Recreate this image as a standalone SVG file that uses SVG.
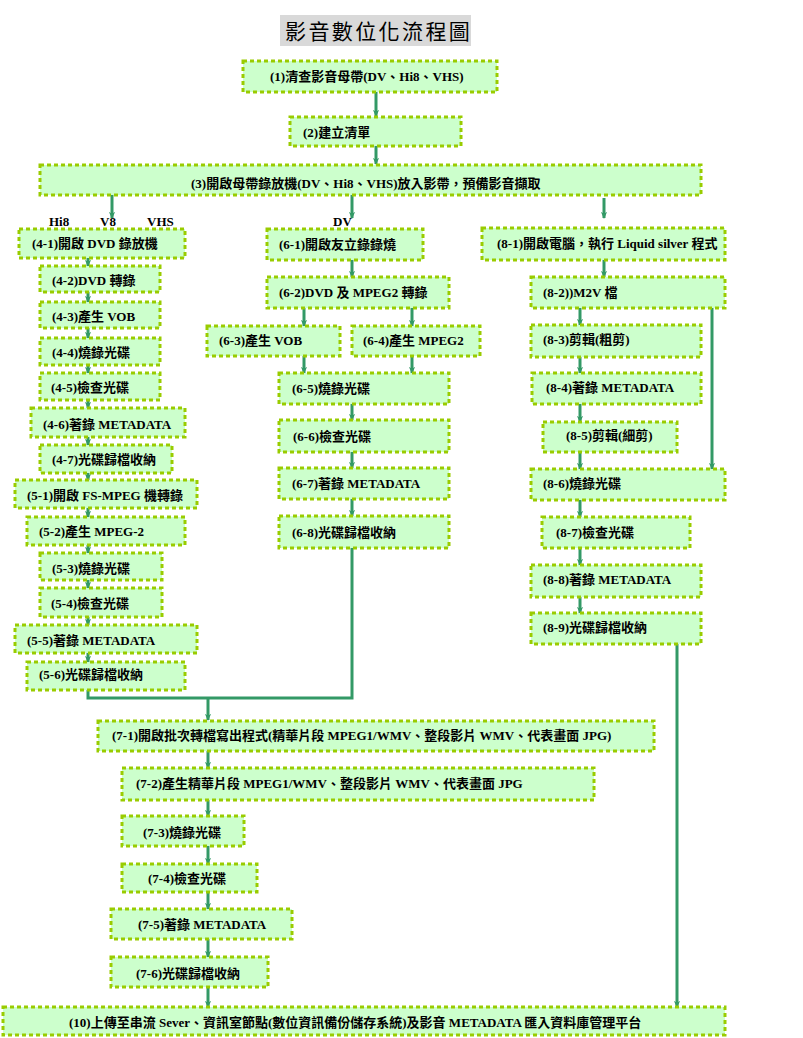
<svg xmlns="http://www.w3.org/2000/svg" width="803" height="1038" viewBox="0 0 803 1038">
<style>
.b{fill:#ccffcc;stroke:#99cc00;stroke-width:3;stroke-dasharray:4 3}
.t{font-family:"Liberation Serif","Noto Sans CJK TC",serif;font-weight:bold;font-size:13px;fill:#000}
.c{fill:none;stroke:#339966;stroke-width:3}
.a{marker-end:url(#ah)}
</style>
<defs>
<marker id="ah" viewBox="0 0 8 8" refX="7" refY="4" markerWidth="7" markerHeight="7" markerUnits="userSpaceOnUse" orient="auto">
<path d="M0,0.5 L8,4 L0,7.5 L2,4 z" fill="#339966"/>
</marker>
</defs>
<rect width="803" height="1038" fill="#fff"/>
<g id="title">
<rect x="280" y="15" width="191" height="31" fill="#d9d9d9"/>
<text x="285" y="39" style="font-family:'Liberation Serif','Noto Sans CJK TC',serif;font-size:21px;letter-spacing:2.4px;fill:#000">影音數位化流程圖</text>
</g>
<g id="connectors">
<path class="c a" d="M376,92 V116"/>
<path class="c a" d="M376,146 V164"/>
<path class="c a" d="M112,195 V218"/>
<path class="c a" d="M352,195 V218"/>
<path class="c a" d="M604,198 V218"/>
<path class="c a" d="M88,258 V266"/>
<path class="c a" d="M88,292 V302"/>
<path class="c a" d="M88,328 V338"/>
<path class="c a" d="M88,365 V373"/>
<path class="c a" d="M88,400 V408"/>
<path class="c a" d="M88,437 V445"/>
<path class="c a" d="M88,473 V480"/>
<path class="c a" d="M88,508 V517"/>
<path class="c a" d="M88,545 V553"/>
<path class="c a" d="M88,580 V588"/>
<path class="c a" d="M88,617 V625"/>
<path class="c a" d="M88,653 V662"/>
<path class="c" d="M88,690 V698 H352 V548"/>
<path class="c a" d="M208,698 V720"/>
<path class="c a" d="M352,260 V277"/>
<path class="c a" d="M304,308 V326"/>
<path class="c a" d="M412,308 V326"/>
<path class="c a" d="M304,356 V373"/>
<path class="c a" d="M412,356 V373"/>
<path class="c a" d="M352,404 V420"/>
<path class="c a" d="M352,452 V468"/>
<path class="c a" d="M352,499 V516"/>
<path class="c a" d="M604,260 V277"/>
<path class="c a" d="M580,308 V325"/>
<path class="c a" d="M580,357 V373"/>
<path class="c a" d="M580,404 V422"/>
<path class="c a" d="M580,452 V469"/>
<path class="c a" d="M580,500 V517"/>
<path class="c a" d="M580,548 V565"/>
<path class="c a" d="M580,597 V613"/>
<path class="c a" d="M712,308 V469"/>
<path class="c a" d="M677,644 V1007"/>
<path class="c a" d="M208,751 V768"/>
<path class="c a" d="M208,800 V816"/>
<path class="c a" d="M208,846 V864"/>
<path class="c a" d="M208,892 V909"/>
<path class="c a" d="M208,939 V957"/>
<path class="c a" d="M208,987 V1007"/>
</g>
<g id="labels">
<text class="t" x="49" y="226">Hi8</text>
<text class="t" x="100" y="226">V8</text>
<text class="t" x="147" y="226">VHS</text>
<text class="t" x="333" y="226">DV</text>
</g>
<g id="n1"><rect class="b" x="243" y="61" width="254" height="31"/><text class="t" x="270" y="81">(1)清查影音母帶(DV、Hi8、VHS)</text></g>
<g id="n2"><rect class="b" x="290" y="117" width="171" height="29"/><text class="t" x="303" y="137">(2)建立清單</text></g>
<g id="n3"><rect class="b" x="40" y="165" width="661" height="30"/><text class="t" x="191" y="188">(3)開啟母帶錄放機(DV、Hi8、VHS)放入影帶，預備影音擷取</text></g>
<g id="n4-1"><rect class="b" x="19" y="229" width="166" height="29"/><text class="t" x="32" y="248">(4-1)開啟 DVD 錄放機</text></g>
<g id="n4-2"><rect class="b" x="40" y="266" width="120" height="26"/><text class="t" x="52" y="285">(4-2)DVD 轉錄</text></g>
<g id="n4-3"><rect class="b" x="40" y="302" width="120" height="26"/><text class="t" x="52" y="321">(4-3)產生 VOB</text></g>
<g id="n4-4"><rect class="b" x="40" y="338" width="120" height="27"/><text class="t" x="52" y="357">(4-4)燒錄光碟</text></g>
<g id="n4-5"><rect class="b" x="40" y="373" width="120" height="27"/><text class="t" x="51" y="392">(4-5)檢查光碟</text></g>
<g id="n4-6"><rect class="b" x="31" y="408" width="154" height="29"/><text class="t" x="43" y="429">(4-6)著錄 METADATA</text></g>
<g id="n4-7"><rect class="b" x="40" y="445" width="132" height="28"/><text class="t" x="52" y="464">(4-7)光碟歸檔收納</text></g>
<g id="n5-1"><rect class="b" x="15" y="480" width="182" height="28"/><text class="t" x="27" y="500">(5-1)開啟 FS-MPEG 機轉錄</text></g>
<g id="n5-2"><rect class="b" x="27" y="517" width="158" height="28"/><text class="t" x="39" y="536">(5-2)產生 MPEG-2</text></g>
<g id="n5-3"><rect class="b" x="40" y="553" width="122" height="27"/><text class="t" x="52" y="573">(5-3)燒錄光碟</text></g>
<g id="n5-4"><rect class="b" x="40" y="588" width="122" height="29"/><text class="t" x="51" y="608">(5-4)檢查光碟</text></g>
<g id="n5-5"><rect class="b" x="15" y="625" width="182" height="28"/><text class="t" x="27" y="645">(5-5)著錄 METADATA</text></g>
<g id="n5-6"><rect class="b" x="27" y="662" width="158" height="28"/><text class="t" x="39" y="679">(5-6)光碟歸檔收納</text></g>
<g id="n6-1"><rect class="b" x="267" y="229" width="156" height="31"/><text class="t" x="279" y="249">(6-1)開啟友立錄錄燒</text></g>
<g id="n6-2"><rect class="b" x="267" y="277" width="182" height="31"/><text class="t" x="279" y="297">(6-2)DVD 及 MPEG2 轉錄</text></g>
<g id="n6-3"><rect class="b" x="207" y="326" width="133" height="30"/><text class="t" x="219" y="345">(6-3)產生 VOB</text></g>
<g id="n6-4"><rect class="b" x="352" y="326" width="128" height="30"/><text class="t" x="363" y="345">(6-4)產生 MPEG2</text></g>
<g id="n6-5"><rect class="b" x="279" y="373" width="170" height="31"/><text class="t" x="292" y="393">(6-5)燒錄光碟</text></g>
<g id="n6-6"><rect class="b" x="279" y="420" width="170" height="32"/><text class="t" x="293" y="441">(6-6)檢查光碟</text></g>
<g id="n6-7"><rect class="b" x="279" y="468" width="170" height="31"/><text class="t" x="292" y="488">(6-7)著錄 METADATA</text></g>
<g id="n6-8"><rect class="b" x="279" y="516" width="170" height="32"/><text class="t" x="292" y="537">(6-8)光碟歸檔收納</text></g>
<g id="n8-1"><rect class="b" x="482" y="228" width="243" height="32"/><text class="t" x="497" y="248">(8-1)開啟電腦，執行 Liquid silver 程式</text></g>
<g id="n8-2"><rect class="b" x="531" y="277" width="194" height="31"/><text class="t" x="543" y="297">(8-2))M2V 檔</text></g>
<g id="n8-3"><rect class="b" x="531" y="325" width="170" height="32"/><text class="t" x="543" y="344">(8-3)剪輯(粗剪)</text></g>
<g id="n8-4"><rect class="b" x="532" y="373" width="169" height="31"/><text class="t" x="546" y="392">(8-4)著錄 METADATA</text></g>
<g id="n8-5"><rect class="b" x="543" y="422" width="134" height="30"/><text class="t" x="566" y="440">(8-5)剪輯(細剪)</text></g>
<g id="n8-6"><rect class="b" x="531" y="469" width="194" height="31"/><text class="t" x="543" y="488">(8-6)燒錄光碟</text></g>
<g id="n8-7"><rect class="b" x="542" y="517" width="148" height="31"/><text class="t" x="556" y="537">(8-7)檢查光碟</text></g>
<g id="n8-8"><rect class="b" x="531" y="565" width="170" height="32"/><text class="t" x="543" y="584">(8-8)著錄 METADATA</text></g>
<g id="n8-9"><rect class="b" x="531" y="613" width="170" height="31"/><text class="t" x="543" y="632">(8-9)光碟歸檔收納</text></g>
<g id="n7-1"><rect class="b" x="98" y="721" width="556" height="30"/><text class="t" x="112" y="740">(7-1)開啟批次轉檔寫出程式(精華片段 MPEG1/WMV、整段影片 WMV、代表畫面 JPG)</text></g>
<g id="n7-2"><rect class="b" x="122" y="768" width="472" height="32"/><text class="t" x="136" y="788">(7-2)產生精華片段 MPEG1/WMV、整段影片 WMV、代表畫面 JPG</text></g>
<g id="n7-3"><rect class="b" x="122" y="816" width="122" height="30"/><text class="t" x="143" y="837">(7-3)燒錄光碟</text></g>
<g id="n7-4"><rect class="b" x="122" y="864" width="135" height="28"/><text class="t" x="148" y="883">(7-4)檢查光碟</text></g>
<g id="n7-5"><rect class="b" x="111" y="909" width="181" height="30"/><text class="t" x="138" y="929">(7-5)著錄 METADATA</text></g>
<g id="n7-6"><rect class="b" x="111" y="957" width="157" height="30"/><text class="t" x="136" y="978">(7-6)光碟歸檔收納</text></g>
<g id="n10"><rect class="b" x="3" y="1007" width="722" height="28"/><text class="t" x="69" y="1027">(10)上傳至串流 Sever、資訊室節點(數位資訊備份儲存系統)及影音 METADATA 匯入資料庫管理平台</text></g>
</svg>
